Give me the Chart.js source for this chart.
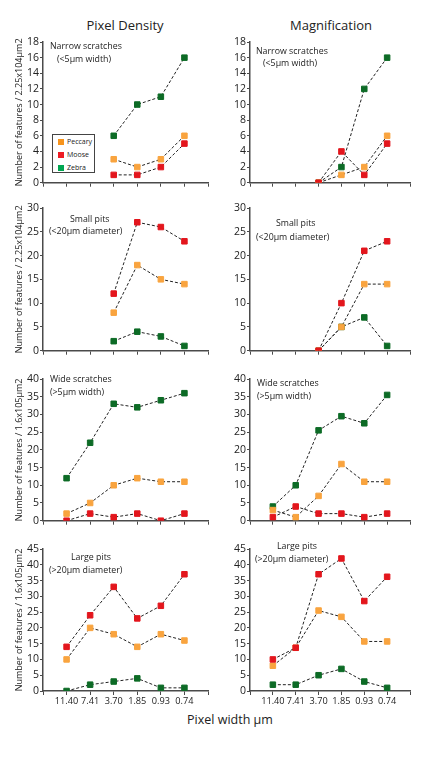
<!DOCTYPE html>
<html>
<head>
<meta charset="utf-8">
<script src="https://cdn.jsdelivr.net/npm/chart.js@4.4.1/dist/chart.umd.min.js"></script>
<style>
  body { margin: 0; background: #fff; font-family: 'Open Sans', sans-serif; color: #222; }
  #page { position: relative; width: 436px; height: 762px; overflow: hidden; }
  #page canvas { position: absolute; }
  .colTitle { position: absolute; top: 16px; width: 160px; font-size: 13px; line-height: 18px; text-align: center; }
  #xTitle { position: absolute; top: 711px; left: 150px; width: 160px; font-size: 12.5px; line-height: 18px; text-align: center; }
  #legend { position: absolute; left: 52px; top: 134px; width: 41px; height: 37px; border: 1px solid #444; background: #fff; font-size: 7px; }
  #legend div { position: absolute; left: 14px; height: 10px; line-height: 10px; }
  #legend span { position: absolute; left: -9px; top: 2px; width: 6px; height: 6px; }
</style>
</head>
<body>
<div id="page">
  <div class="colTitle" style="left:45px">Pixel Density</div>
  <div class="colTitle" style="left:251px">Magnification</div>
  <div id="xTitle">Pixel width µm</div>
</div>
<script>
// pixel widths (µm) along the x axis
var categories = ['11.40', '7.41', '3.70', '1.85', '0.93', '0.74'];

// Pixel Density column
var pdNarrowPeccary = [null, null, 3, 2, 3, 6];
var pdNarrowMoose   = [null, null, 1, 1, 2, 5];
var pdNarrowZebra   = [null, null, 6, 10, 11, 16];
var pdSmallPeccary  = [null, null, 8, 18, 15, 14];
var pdSmallMoose    = [null, null, 12, 27, 26, 23];
var pdSmallZebra    = [null, null, 2, 4, 3, 1];
var pdWidePeccary   = [2, 5, 10, 12, 11, 11];
var pdWideMoose     = [0, 2, 1, 2, 0, 2];
var pdWideZebra     = [12, 22, 33, 32, 34, 36];
var pdLargePeccary  = [10, 20, 18, 14, 18, 16];
var pdLargeMoose    = [14, 24, 33, 23, 27, 37];
var pdLargeZebra    = [0, 2, 3, 4, 1, 1];

// Magnification column
var mgNarrowPeccary = [null, null, 0, 1, 2, 6];
var mgNarrowMoose   = [null, null, 0, 4, 1, 5];
var mgNarrowZebra   = [null, null, 0, 2, 12, 16];
var mgSmallPeccary  = [null, null, 0, 5, 14, 14];
var mgSmallMoose    = [null, null, 0, 10, 21, 23];
var mgSmallZebra    = [null, null, 0, 5, 7, 1];
var mgWidePeccary   = [3, 1, 7, 16, 11, 11];
var mgWideMoose     = [1, 4, 2, 2, 1, 2];
var mgWideZebra     = [4, 10, 25.5, 29.5, 27.5, 35.5];
var mgLargePeccary  = [8, 13.7, 25.5, 23.5, 15.7, 15.7];
var mgLargeMoose    = [10, 13.7, 37, 42, 28.5, 36.2];
var mgLargeZebra    = [2, 2, 5, 7, 3, 1];

var yMax = [18, 30, 40, 45];
var yStep = [2, 5, 5, 5];
var yTitles = ['Number of features / 2.25x104µm2', 'Number of features / 2.25x104µm2',
               'Number of features / 1.6x105µm2', 'Number of features / 1.6x105µm2'];
var notes = [['Narrow scratches', '(<5µm width)'], ['Small pits', '(<20µm diameter)'],
             ['Wide scratches', '(>5µm width)'], ['Large pits', '(>20µm diameter)']];
var legendNames = ['Peccary', 'Moose', 'Zebra'];

var pointColors = { Moose: '#e3161d', Peccary: '#f9a43f', Zebra: '#0d6b26' };
var legendColors = { Peccary: '#f7941d', Moose: '#ed1c24', Zebra: '#00a651' };

var panels = [
  { col: 0, row: 0, moose: pdNarrowMoose, peccary: pdNarrowPeccary, zebra: pdNarrowZebra, notePos: [[7, 4], [14, 17]] },
  { col: 1, row: 0, moose: mgNarrowMoose, peccary: mgNarrowPeccary, zebra: mgNarrowZebra, notePos: [[6, 9], [13, 21]] },
  { col: 0, row: 1, moose: pdSmallMoose, peccary: pdSmallPeccary, zebra: pdSmallZebra, notePos: [[27, 11], [6, 23]] },
  { col: 1, row: 1, moose: mgSmallMoose, peccary: mgSmallPeccary, zebra: mgSmallZebra, notePos: [[26, 15], [6, 29]] },
  { col: 0, row: 2, moose: pdWideMoose, peccary: pdWidePeccary, zebra: pdWideZebra, notePos: [[7, 0], [7, 13]] },
  { col: 1, row: 2, moose: mgWideMoose, peccary: mgWidePeccary, zebra: mgWideZebra, notePos: [[7, 4], [7, 17]] },
  { col: 0, row: 3, moose: pdLargeMoose, peccary: pdLargePeccary, zebra: pdLargeZebra, notePos: [[28, 8], [6, 21]] },
  { col: 1, row: 3, moose: mgLargeMoose, peccary: mgLargePeccary, zebra: mgLargeZebra, notePos: [[27, -3], [5, 10]] }
];

// layout of the grid
var colX = [0, 218], colW = [215, 200], yAxisW = [43, 32], padRight = [7, 8];
var areaTop = [42, 208, 379, 549], areaBottom = [184, 352, 522, 691];
var padTop = 10, xAxisH = [6, 6, 6, 22];
var axisColor = '#4a4a4a';
var fontFamily = "'Open Sans', sans-serif";

// text inside each panel
var notePlugin = {
  id: 'notes',
  afterDraw: function(chart, args, opts) {
    var ctx = chart.ctx, a = chart.chartArea;
    ctx.save();
    ctx.font = '8.8px ' + fontFamily;
    ctx.fillStyle = '#222';
    ctx.textBaseline = 'middle';
    ctx.textAlign = 'left';
    opts.lines.forEach(function(t, i) {
      ctx.fillText(t, a.left + opts.pos[i][0], a.top + opts.pos[i][1]);
    });
    ctx.restore();
  }
};

function pad(values) { return [null].concat(values, [null]); }

function makeSet(name, values) {
  return {
    label: name,
    data: pad(values),
    borderColor: '#222',
    borderWidth: 1,
    borderDash: [3, 2],
    fill: false,
    tension: 0,
    pointStyle: 'rect',
    pointRadius: 3.9,
    pointBorderWidth: 1,
    pointBackgroundColor: pointColors[name],
    pointBorderColor: pointColors[name]
  };
}

var page = document.getElementById('page');

panels.forEach(function(p) {
  var col = p.col, row = p.row;
  var canvas = document.createElement('canvas');
  var h = areaBottom[row] - areaTop[row] + padTop + xAxisH[row];
  canvas.width = colW[col];
  canvas.height = h;
  canvas.style.width = colW[col] + 'px';
  canvas.style.height = h + 'px';
  canvas.style.left = colX[col] + 'px';
  canvas.style.top = (areaTop[row] - padTop) + 'px';
  page.appendChild(canvas);

  new Chart(canvas.getContext('2d'), {
    type: 'line',
    data: {
      labels: [''].concat(categories, ['']),
      // Moose first so it sits on top where series overlap
      datasets: [makeSet('Moose', p.moose), makeSet('Peccary', p.peccary), makeSet('Zebra', p.zebra)]
    },
    plugins: [notePlugin],
    options: {
      responsive: false,
      animation: false,
      devicePixelRatio: 1,
      layout: { padding: { top: padTop, right: padRight[col], left: 0, bottom: 0 } },
      plugins: {
        legend: { display: false },
        tooltip: { enabled: false },
        notes: { lines: notes[row], pos: p.notePos }
      },
      scales: {
        x: {
          type: 'category',
          offset: false,
          afterFit: function(s) { s.height = xAxisH[row]; },
          grid: { drawOnChartArea: false, tickLength: 4, color: axisColor },
          border: { color: axisColor, width: 1.5 },
          ticks: { display: row === 3, autoSkip: false, maxRotation: 0, padding: 1, color: '#222',
                   font: { family: fontFamily, size: 9.2 } }
        },
        y: {
          min: 0,
          max: yMax[row],
          afterFit: function(s) { s.width = yAxisW[col]; },
          grid: { drawOnChartArea: false, tickLength: 3, color: axisColor },
          border: { color: axisColor, width: 1.5 },
          ticks: { stepSize: yStep[row], padding: 1, color: '#222', font: { family: fontFamily, size: 10.5 } },
          title: { display: col === 0, text: yTitles[row], color: '#222', padding: { top: 14, bottom: 0 },
                   font: { family: fontFamily, size: 9 } }
        }
      }
    }
  });
});

// legend box in the first panel
var legend = document.createElement('div');
legend.id = 'legend';
legendNames.forEach(function(name, i) {
  var item = document.createElement('div');
  item.style.top = (2 + i * 13) + 'px';
  var sw = document.createElement('span');
  sw.style.background = legendColors[name];
  item.appendChild(sw);
  item.appendChild(document.createTextNode(name));
  legend.appendChild(item);
});
page.appendChild(legend);
</script>
</body>
</html>
